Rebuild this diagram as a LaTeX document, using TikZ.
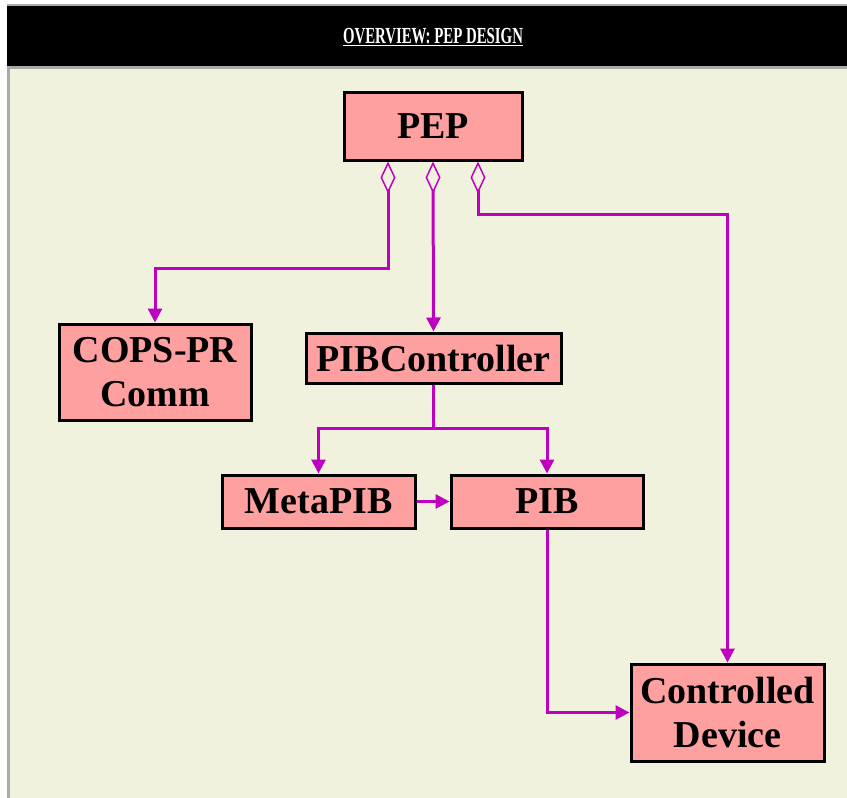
\documentclass[tikz,border=0pt]{standalone}
\usepackage{fontspec}
\setmainfont{Liberation Serif}
\usetikzlibrary{arrows.meta}
\definecolor{panelbg}{RGB}{241,242,222}
\definecolor{boxfill}{RGB}{255,160,160}
\definecolor{linkcol}{RGB}{192,0,192}
\definecolor{edgegray}{RGB}{170,170,170}
\tikzset{
  classbox/.style={draw=black, line width=3pt, fill=boxfill, inner sep=0pt,
    align=center, font=\fontsize{38}{44}\selectfont\bfseries},
  link/.style={draw=linkcol, line width=3pt, -{Triangle[length=14pt,width=14pt]}},
  owns/.style={link, {Diamond[open, line width=1.5pt, length=32pt, width=15pt]}-{Triangle[length=14pt,width=14pt]}},
}
\begin{document}
\begin{tikzpicture}[x=1pt,y=-1pt]
  \useasboundingbox (0,0) rectangle (847,798);
  % page frame: title band and panel
  \fill[white] (0,0) rectangle (847,798);
  \fill[edgegray] (7,4) rectangle (847,69);
  \fill[black] (7,6) rectangle (847,66);
  \fill[edgegray] (7,66) rectangle (11,798);
  \fill[panelbg] (10,69) rectangle (847,798);
  \node (title) at (433,37) {\color{white}\bfseries\fontsize{23}{26}\selectfont
    \underline{\scalebox{0.645}[1]{OVERVIEW: PEP DESIGN}}};

  % classes
  \node[classbox, minimum width=178pt, minimum height=68pt] (pep) at (433,126) {PEP};
  \node[classbox, minimum width=192pt, minimum height=96pt] (cops) at (155,372) {COPS-PR\\Comm};
  \node[classbox, minimum width=255pt, minimum height=50pt] (pibc) at (433.5,358) {PIBController};
  \node[classbox, minimum width=193pt, minimum height=53pt] (meta) at (318.5,501.5) {MetaPIB};
  \node[classbox, minimum width=192pt, minimum height=53pt] (pib) at (547,501.5) {PIB};
  \node[classbox, minimum width=193pt, minimum height=97pt] (dev) at (727.5,712.5) {Controlled\\Device};

  % aggregation links from PEP
  \draw[owns] ([xshift=-45pt]pep.south) -- ([xshift=-45pt]pep.south |- 0,268) -| (cops.north);
  \draw[owns] (pep.south) -- (pibc.north);
  \draw[owns] ([xshift=45pt]pep.south) -- ([xshift=45pt]pep.south |- 0,214) -| (dev.north);

  % PIBController to MetaPIB and PIB
  \coordinate (split) at (433.5,428);
  \draw[link] (pibc.south) -- (split) -| (meta.north);
  \draw[link] (split) -| (pib.north);

  % MetaPIB to PIB, PIB to device
  \draw[link] (meta.east) -- (pib.west);
  \draw[link] (pib.south) |- (dev.west);
\end{tikzpicture}
\end{document}
